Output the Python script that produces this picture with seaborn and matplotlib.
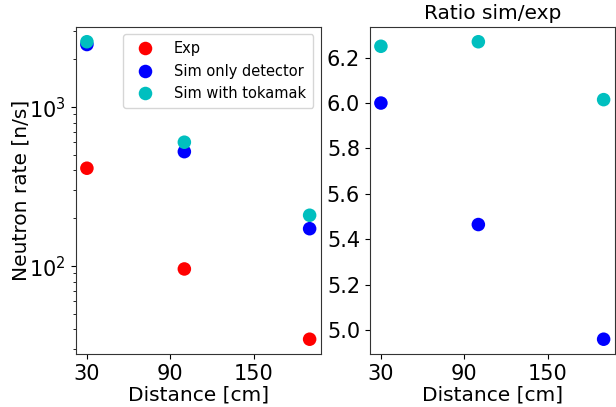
import pandas as pd
import numpy as np
import seaborn as sns
import matplotlib.pyplot as plt
from matplotlib.ticker import MultipleLocator


distance = [30, 100, 190]
exp_rate = [413, 96, 34.7]
sim_detector = [2478, 525, 172]
sim_tokamak = [2580, 602, 209]
ratio_detector = [6.0, 5.465, 4.96]
ratio_tokamak = [6.25, 6.27, 6.015]

labels = ["Exp", "Sim only detector", "Sim with tokamak"]
colors = {"Exp": "r", "Sim only detector": "b", "Sim with tokamak": "c"}

rates = pd.DataFrame({
    "distance": distance * 3,
    "rate": exp_rate + sim_detector + sim_tokamak,
    "series": [labels[0]] * 3 + [labels[1]] * 3 + [labels[2]] * 3,
})
ratios = pd.DataFrame({
    "distance": distance * 2,
    "ratio": ratio_detector + ratio_tokamak,
    "series": [labels[1]] * 3 + [labels[2]] * 3,
})

sns.set_style("ticks", {"text.color": "black", "axes.labelcolor": "black",
                        "xtick.color": "black", "ytick.color": "black",
                        "axes.edgecolor": "0.2"})
plt.rcParams['font.family'] = ['DejaVu Sans']

fig, (ax1, ax2) = plt.subplots(1, 2, figsize=(6.16, 4.07), dpi=100)
fig.subplots_adjust(left=0.123, right=0.998, top=0.934, bottom=0.13, wspace=0.2)

sns.scatterplot(data=rates, x="distance", y="rate", hue="series", palette=colors,
                s=95, linewidth=0, ax=ax1)
ax1.set_yscale("log")
ax1.set_xticks([30, 90, 150])
ax1.set_xlabel("Distance [cm]", fontsize=14.5, labelpad=1)
ax1.set_ylabel("Neutron rate [n/s]", fontsize=14.5, labelpad=-1)
ax1.tick_params(labelsize=15)
ax1.tick_params(which="minor", length=2.5)
ax1.legend(loc="upper right", fontsize=10.5, title=None, borderpad=0.5,
           handletextpad=1.0)

sns.scatterplot(data=ratios, x="distance", y="ratio", hue="series", palette=colors,
                s=95, linewidth=0, ax=ax2, legend=False)
ax2.set_xticks([30, 90, 150])
ax2.yaxis.set_major_locator(MultipleLocator(0.2))
ax2.set_xlabel("Distance [cm]", fontsize=14.5, labelpad=1)
ax2.set_ylabel("")
ax2.set_title("Ratio sim/exp", fontsize=14.5)
ax2.tick_params(labelsize=15)

plt.savefig("out.png")
